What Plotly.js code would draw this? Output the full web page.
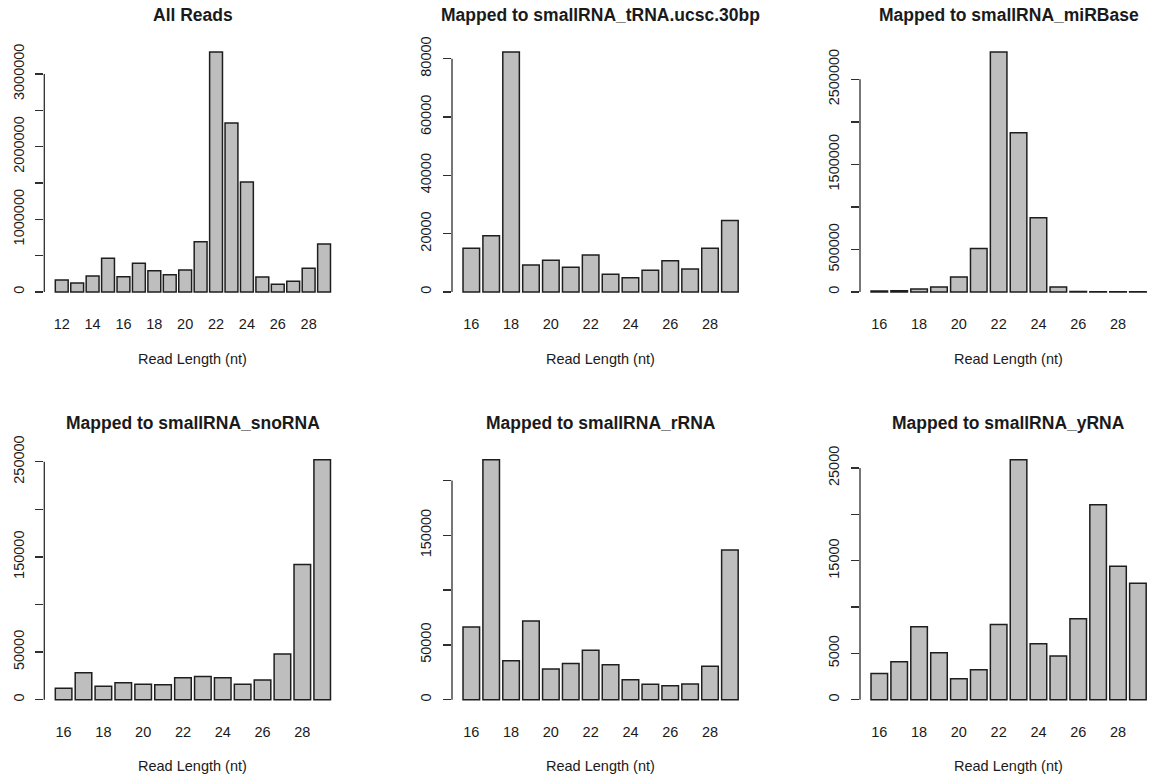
<!DOCTYPE html>
<html>
<head>
<meta charset="utf-8">
<script src="https://cdn.plot.ly/plotly-3.0.1.min.js"></script>
<style>
  html, body { margin: 0; padding: 0; background: #ffffff; }
  #chart { width: 1153px; height: 782px; }
</style>
</head>
<body>
<div id="chart"></div>
<script>
// Read-length distributions of small RNA reads
const lengthsAll = [12, 13, 14, 15, 16, 17, 18, 19, 20, 21, 22, 23, 24, 25, 26, 27, 28, 29];
const lengthsMapped = [16, 17, 18, 19, 20, 21, 22, 23, 24, 25, 26, 27, 28, 29];

const allReads = [165000, 124000, 220000, 463000, 211000, 394000, 294000, 239000, 303000, 693000,
                  3303000, 2326000, 1514000, 206000, 105000, 147000, 326000, 661000];
const tRNA = [15000, 19300, 82300, 9300, 10900, 8500, 12700, 6100, 4900, 7500, 10700, 7900, 15000, 24500];
const miRBase = [12000, 15000, 35000, 60000, 175000, 511000, 2821000, 1873000, 874000, 60000, 5000, 3000, 3000, 3000];
const snoRNA = [11900, 28300, 14000, 17800, 16100, 15700, 23100, 24500, 23100, 16100, 20600, 47900, 142000, 252100];
const rRNA = [66200, 218900, 35500, 71700, 27900, 33100, 45200, 31900, 18200, 14000, 12800, 14300, 30400, 136600];
const yRNA = [2840, 4100, 7870, 5070, 2260, 3230, 8120, 25900, 6030, 4710, 8730, 21050, 14400, 12570];

const panelTitles = [
  'All Reads',
  'Mapped to smallRNA_tRNA.ucsc.30bp',
  'Mapped to smallRNA_miRBase',
  'Mapped to smallRNA_snoRNA',
  'Mapped to smallRNA_rRNA',
  'Mapped to smallRNA_yRNA'
];
const xLabel = 'Read Length (nt)';

// x tick labels (alternate labels, as drawn under the bars)
const xTicksAll = [12, 14, 16, 18, 20, 22, 24, 26, 28];
const xTicksMapped = [16, 18, 20, 22, 24, 26, 28];

// y ticks and the labels printed beside them
const yTicks1 = [0, 500000, 1000000, 1500000, 2000000, 2500000, 3000000];
const yText1 = ['0', '', '1000000', '', '2000000', '', '3000000'];
const yTicks2 = [0, 20000, 40000, 60000, 80000];
const yText2 = ['0', '20000', '40000', '60000', '80000'];
const yTicks3 = [0, 500000, 1000000, 1500000, 2000000, 2500000];
const yText3 = ['0', '500000', '', '1500000', '', '2500000'];
const yTicks4 = [0, 50000, 100000, 150000, 200000, 250000];
const yText4 = ['0', '50000', '', '150000', '', '250000'];
const yTicks5 = [0, 50000, 100000, 150000, 200000];
const yText5 = ['0', '50000', '', '150000', ''];
const yTicks6 = [0, 5000, 10000, 15000, 20000, 25000];
const yText6 = ['0', '5000', '', '15000', '', '25000'];

const panels = [
  { x: lengthsAll, y: allReads, xt: xTicksAll, yt: yTicks1, ytx: yText1 },
  { x: lengthsMapped, y: tRNA, xt: xTicksMapped, yt: yTicks2, ytx: yText2 },
  { x: lengthsMapped, y: miRBase, xt: xTicksMapped, yt: yTicks3, ytx: yText3 },
  { x: lengthsMapped, y: snoRNA, xt: xTicksMapped, yt: yTicks4, ytx: yText4 },
  { x: lengthsMapped, y: rRNA, xt: xTicksMapped, yt: yTicks5, ytx: yText5 },
  { x: lengthsMapped, y: yRNA, xt: xTicksMapped, yt: yTicks6, ytx: yText6 }
];

// page geometry (pixels)
const W = 1153, H = 782;
const colPx = [[44.3, 341.5], [452, 749.2], [860, 1157.2]];
const rowPx = [[42.4, 301.6], [450.1, 709.3]];

const FONT = 'Liberation Sans, Arial, Helvetica, sans-serif';
const INK = '#1a1a1a';
const AXIS = '#2e2e2e';
const barW = 1 / 1.2;

const data = [];
const layout = {
  width: W, height: H,
  margin: { l: 0, r: 0, t: 0, b: 0 },
  paper_bgcolor: '#ffffff',
  plot_bgcolor: 'rgba(0,0,0,0)',
  showlegend: false,
  font: { family: FONT, color: INK, size: 14.5 },
  bargap: 0,
  annotations: [],
  shapes: []
};

panels.forEach((p, i) => {
  const k = i + 1;
  const row = Math.floor(i / 3), col = i % 3;
  const xa = 'xaxis' + (k === 1 ? '' : k);
  const ya = 'yaxis' + (k === 1 ? '' : k);
  const xr = 'x' + (k === 1 ? '' : k);
  const yr = 'y' + (k === 1 ? '' : k);

  data.push({
    type: 'bar', x: p.x, y: p.y, width: barW,
    xaxis: xr, yaxis: yr,
    marker: { color: '#bebebe', line: { color: '#1e1e1e', width: 1.5 } },
    hoverinfo: 'x+y'
  });

  // x range: bars plus 4% padding on both sides
  const n = p.x.length;
  const span = n - 1 / 6;
  let lo = p.x[0] - barW / 2 - 0.04 * span;
  let hi = p.x[n - 1] + barW / 2 + 0.04 * span;
  let [px0, px1] = colPx[col];
  if (px1 > W) {
    hi = lo + (hi - lo) * (W - px0) / (px1 - px0);
    px1 = W;
  }
  const ymax = Math.max(...p.y);
  const [py0, py1] = rowPx[row];

  layout[xa] = {
    domain: [px0 / W, px1 / W],
    range: [lo, hi],
    anchor: yr,
    showgrid: false, zeroline: false, showline: false,
    ticks: '',
    tickmode: 'array', tickvals: p.xt, ticktext: p.xt.map(String),
    tickfont: { size: 14.5, color: INK },
    ticklabelstandoff: 12,
    fixedrange: true
  };
  layout[ya] = {
    domain: [1 - py1 / H, 1 - py0 / H],
    range: [-0.04 * ymax, 1.04 * ymax],
    anchor: xr,
    showgrid: false, zeroline: false, showline: false,
    ticks: 'outside', ticklen: 8, tickwidth: 1.3, tickcolor: AXIS,
    tickmode: 'array', tickvals: p.yt, ticktext: p.ytx,
    tickangle: -90,
    tickfont: { size: 14.5, color: INK },
    ticklabelstandoff: 6,
    fixedrange: true
  };

  // y axis line running only from the first to the last tick
  layout.shapes.push({
    type: 'line', xref: xr + ' domain', yref: yr,
    x0: 0, x1: 0, y0: p.yt[0], y1: p.yt[p.yt.length - 1],
    line: { color: AXIS, width: 1.3 }
  });

  const cx = ((colPx[col][0] + colPx[col][1]) / 2) / W;
  layout.annotations.push({
    text: panelTitles[i], xref: 'paper', yref: 'paper',
    x: cx, y: 1 - (py0 - 27.4) / H, xanchor: 'center', yanchor: 'middle',
    showarrow: false,
    font: { family: FONT, size: 17.5, color: INK, weight: 'bold' }
  });
  layout.annotations.push({
    text: xLabel, xref: 'paper', yref: 'paper',
    x: cx, y: 1 - (py1 + 57) / H, xanchor: 'center', yanchor: 'middle',
    showarrow: false,
    font: { family: FONT, size: 14.5, color: INK }
  });
});

Plotly.newPlot('chart', data, layout, { displayModeBar: false, staticPlot: true });
</script>
</body>
</html>
